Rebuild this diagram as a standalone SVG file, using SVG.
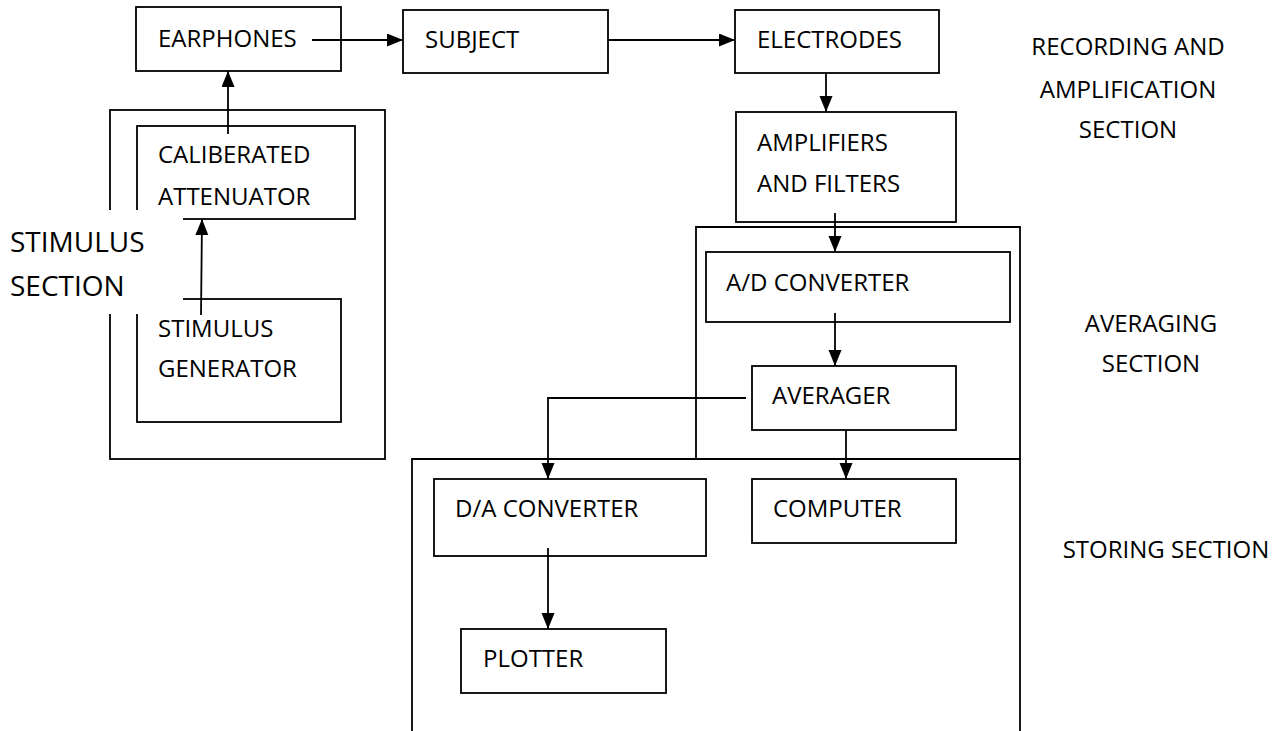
<svg xmlns="http://www.w3.org/2000/svg" width="1285" height="731" viewBox="0 0 1285 731">
<style>
.box{fill:none;stroke:#000;stroke-width:1.8}
.sec{fill:none;stroke:#000;stroke-width:1.8}
.ln{fill:none;stroke:#000;stroke-width:1.8}
.t{font-family:"Open Sans","Liberation Sans",sans-serif;font-size:24px;fill:#000}
.lab{font-family:"Open Sans","Liberation Sans",sans-serif;font-size:24px;fill:#000;text-anchor:middle}
.big{font-family:"Open Sans","Liberation Sans",sans-serif;font-size:28px;fill:#000}
</style>
<defs>
<marker id="ah" markerUnits="userSpaceOnUse" markerWidth="16" markerHeight="14" refX="16" refY="6.5" orient="auto">
<path d="M0,0 L16,6.5 L0,13 z" fill="#000"/>
</marker>
</defs>
<rect width="1285" height="731" fill="#fff"/>

<g id="sections">
<rect class="sec" x="110" y="110" width="275" height="349"/>
<path class="sec" d="M696,459 V227 H1020 V459"/>
<path class="sec" d="M412,731 V459 H1020 V731"/>
</g>

<g id="earphones"><rect class="box" x="136" y="7" width="205" height="64"/><text class="t" x="158" y="47">EARPHONES</text></g>
<g id="subject"><rect class="box" x="403" y="10" width="205" height="63"/><text class="t" x="425" y="48">SUBJECT</text></g>
<g id="electrodes"><rect class="box" x="735" y="10" width="204" height="63"/><text class="t" x="757" y="48">ELECTRODES</text></g>
<g id="amplifiers"><rect class="box" x="736" y="112" width="220" height="110"/><text class="t" x="757" y="151">AMPLIFIERS</text><text class="t" x="757" y="192">AND FILTERS</text></g>
<g id="attenuator"><rect class="box" x="137" y="126" width="218" height="93"/><text class="t" x="158" y="163">CALIBERATED</text><text class="t" x="158" y="205">ATTENUATOR</text></g>
<g id="generator"><rect class="box" x="137" y="299" width="204" height="123"/><text class="t" x="158" y="337">STIMULUS</text><text class="t" x="158" y="377">GENERATOR</text></g>
<g id="adconverter"><rect class="box" x="706" y="252" width="304" height="70"/><text class="t" x="726" y="291">A/D CONVERTER</text></g>
<g id="averager"><rect class="box" x="752" y="366" width="204" height="64"/><text class="t" x="772" y="404">AVERAGER</text></g>
<g id="daconverter"><rect class="box" x="434" y="479" width="272" height="77"/><text class="t" x="455" y="517">D/A CONVERTER</text></g>
<g id="computer"><rect class="box" x="752" y="479" width="204" height="64"/><text class="t" x="773" y="517">COMPUTER</text></g>
<g id="plotter"><rect class="box" x="461" y="629" width="205" height="64"/><text class="t" x="483" y="667">PLOTTER</text></g>

<g id="connectors">
<line class="ln" x1="312" y1="40" x2="403" y2="40" marker-end="url(#ah)"/>
<line class="ln" x1="608" y1="40" x2="735" y2="40" marker-end="url(#ah)"/>
<line class="ln" x1="826" y1="73" x2="826" y2="112" marker-end="url(#ah)"/>
<line class="ln" x1="228" y1="134" x2="228" y2="71" marker-end="url(#ah)"/>
<line class="ln" x1="201" y1="315" x2="202" y2="219" marker-end="url(#ah)"/>
<line class="ln" x1="835" y1="213" x2="835" y2="252" marker-end="url(#ah)"/>
<line class="ln" x1="835" y1="313" x2="835" y2="366" marker-end="url(#ah)"/>
<polyline class="ln" points="746,398 548,398 548,479" marker-end="url(#ah)"/>
<line class="ln" x1="846" y1="430" x2="846" y2="479" marker-end="url(#ah)"/>
<line class="ln" x1="548" y1="548" x2="548" y2="629" marker-end="url(#ah)"/>
</g>

<g id="stimulus-section-label">
<rect x="0" y="210" width="183" height="104" fill="#fff"/>
<text class="big" x="10" y="252">STIMULUS</text>
<text class="big" x="10" y="296">SECTION</text>
</g>
<g id="section-labels">
<text class="lab" x="1128" y="55">RECORDING AND</text>
<text class="lab" x="1128" y="98">AMPLIFICATION</text>
<text class="lab" x="1128" y="138">SECTION</text>
<text class="lab" x="1151" y="332">AVERAGING</text>
<text class="lab" x="1151" y="372">SECTION</text>
<text class="lab" x="1166" y="558">STORING SECTION</text>
</g>
</svg>
